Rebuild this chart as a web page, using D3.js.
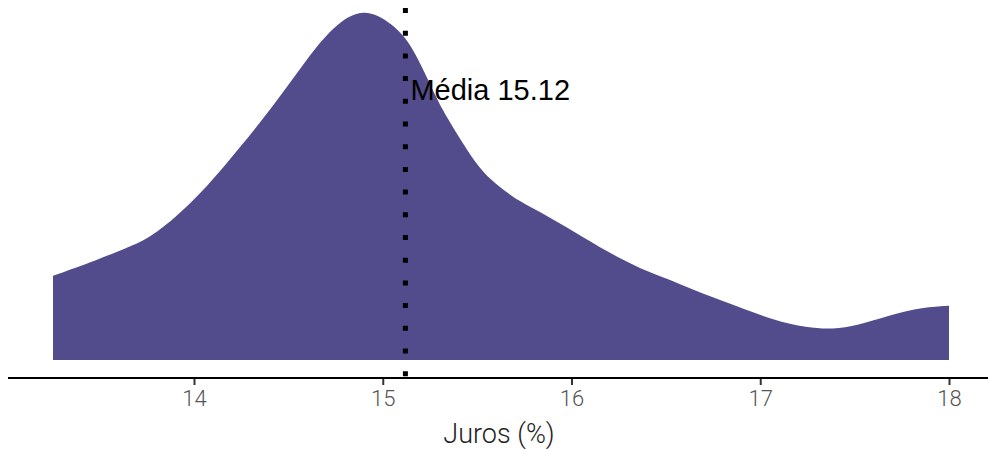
<!DOCTYPE html>
<html>
<head>
<meta charset="utf-8">
<script src="https://cdn.jsdelivr.net/npm/d3@7"></script>
<style>
  html, body { margin: 0; padding: 0; background: #fff; }
  svg { display: block; }
</style>
</head>
<body>
<svg id="chart" width="988" height="449"></svg>
<script>
// Data (interest rate %, estimated density)
const juros = [13.253, 13.486, 13.661, 13.751, 13.889, 14.069, 14.244, 14.419, 14.599, 14.736,
               14.895, 15.054, 15.160, 15.287, 15.356, 15.446, 15.531, 15.621, 15.711, 15.886,
               16.061, 16.241, 16.416, 16.538, 16.681, 16.893, 17.068, 17.248, 17.385, 17.513,
               17.687, 17.862, 18.0];
const densidade = [0.118, 0.140, 0.159, 0.169, 0.196, 0.242, 0.298, 0.355, 0.422, 0.467,
                   0.495, 0.471, 0.440, 0.364, 0.333, 0.294, 0.262, 0.242, 0.224, 0.200,
                   0.172, 0.144, 0.122, 0.111, 0.094, 0.074, 0.056, 0.045, 0.043, 0.048,
                   0.063, 0.074, 0.076];
const media = 15.12;
const xTicks = [14, 15, 16, 17, 18];
const xLabel = "Juros (%)";
const mediaLabel = "Média 15.12";

const svg = d3.select("#chart");

const x = d3.scaleLinear().domain([14, 18]).range([194, 949]);
const y = d3.scaleLinear().domain([0, 0.5]).range([360, 3]);

const pts = juros.map((v, i) => [v, densidade[i]]);

const area = d3.area()
  .x(d => x(d[0]))
  .y0(y(0))
  .y1(d => y(d[1]))
  .curve(d3.curveBasis);

svg.append("path")
  .datum(pts)
  .attr("d", area)
  .attr("fill", "#524c8c");

// Axis
const axisY = 378;
const axis = d3.axisBottom(x).tickValues(xTicks).tickFormat(d3.format("d")).tickSize(7).tickPadding(5);
const gAxis = svg.append("g").attr("transform", `translate(0,${axisY})`).call(axis);
gAxis.select(".domain").remove();
gAxis.selectAll(".tick line").attr("stroke", "#333").attr("stroke-width", 2);
gAxis.selectAll(".tick text")
  .attr("fill", "#555")
  .style("font-family", "Roboto")
  .style("font-weight", 300)
  .style("font-size", "22px");

svg.append("line")
  .attr("x1", 8).attr("x2", 988)
  .attr("y1", axisY).attr("y2", axisY)
  .attr("stroke", "#000").attr("stroke-width", 2);

// Mean line
svg.append("line")
  .attr("x1", x(media)).attr("x2", x(media))
  .attr("y1", 0).attr("y2", axisY)
  .attr("stroke", "#000")
  .attr("stroke-width", 5)
  .attr("stroke-dasharray", "5 17.7")
  .attr("stroke-dashoffset", -8);

svg.append("text")
  .attr("x", x(media) + 5)
  .attr("y", 100)
  .attr("fill", "#000")
  .style("font-family", "'Liberation Sans', Arial, sans-serif")
  .style("font-size", "29px")
  .text(mediaLabel);

svg.append("text")
  .attr("x", 499)
  .attr("y", 443)
  .attr("text-anchor", "middle")
  .attr("fill", "#222")
  .style("font-family", "Roboto")
  .style("font-weight", 300)
  .style("font-size", "27px")
  .text(xLabel);
</script>
</body>
</html>
